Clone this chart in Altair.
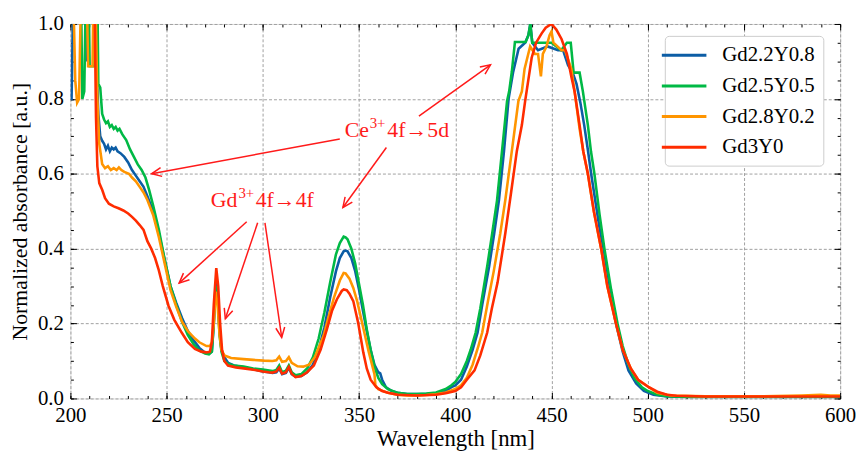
import math
import altair as alt
import pandas as pd

SERIES = ["Gd2.2Y0.8", "Gd2.5Y0.5", "Gd2.8Y0.2", "Gd3Y0"]
COLORS = ["#0C5DA5", "#00B945", "#FF9500", "#FF2C00"]

blue_wl = [200, 200.6, 201.5, 207.5, 208, 208.6, 212.5, 213.5, 214.5, 215.5, 216.5, 217.5, 218.5, 219.5, 220.5,
           221.5, 222.5, 223.5, 224.5, 226, 228, 230, 232, 234, 236, 238, 240, 243, 246, 249, 252, 255, 258,
           261, 264, 267, 270, 272, 273.5, 274.5, 275.5, 276.5, 277.5, 278.5, 280, 282, 285, 290, 295, 300,
           303, 305, 307, 308.5, 310, 312, 313.5, 315, 317, 320, 323, 326, 329, 332, 335, 338, 340, 342, 343,
           344, 346, 348, 350, 352, 354, 356, 358, 360, 361, 362, 364, 367, 370, 375, 380, 385, 390, 395, 398,
           400, 403, 406, 409, 411.6, 414, 417.6, 420.2, 422.7, 425.3, 427.7, 430, 432.9, 436.3, 438, 439,
           440, 443, 448, 453.4, 456, 458.6, 461, 463, 465, 467, 469, 470.6, 473, 476.6, 480, 483.5, 487,
           490, 494, 498, 503, 510, 520, 540, 560, 580, 600]
blue_ab = [0.80, 0.80, 1.08, 1.08, 0.90, 1.08, 1.08, 0.90, 0.76, 0.70, 0.688, 0.68, 0.665, 0.675, 0.66,
           0.67, 0.665, 0.67, 0.66, 0.655, 0.645, 0.63, 0.61, 0.595, 0.58, 0.565, 0.54, 0.50, 0.44, 0.37,
           0.30, 0.255, 0.215, 0.18, 0.155, 0.135, 0.122, 0.12, 0.125, 0.20, 0.31, 0.28, 0.18, 0.13, 0.11,
           0.095, 0.088, 0.083, 0.078, 0.072, 0.07, 0.068, 0.07, 0.08, 0.065, 0.068, 0.082, 0.065, 0.058,
           0.06, 0.07, 0.09, 0.13, 0.19, 0.27, 0.34, 0.375, 0.393, 0.395, 0.393, 0.375, 0.34, 0.29, 0.235,
           0.18, 0.13, 0.09, 0.07, 0.067, 0.05, 0.03, 0.02, 0.015, 0.012, 0.012, 0.012, 0.014, 0.02, 0.03,
           0.035, 0.05, 0.085, 0.13, 0.176, 0.25, 0.353, 0.44, 0.53, 0.66, 0.80, 0.87, 0.934, 0.95, 0.97,
           1.0, 0.95, 0.93, 0.94, 0.93, 0.93, 0.89, 0.87, 0.84, 0.79, 0.73, 0.66, 0.60, 0.52, 0.40, 0.29,
           0.20, 0.125, 0.075, 0.04, 0.02, 0.01, 0.005, 0.004, 0.004, 0.004, 0.004, 0.004]

green_wl = [200, 205.5, 206.2, 207.2, 208, 209.5, 210, 212.5, 213, 214, 214.5, 215.5, 216.5, 217.5, 218.5,
            219.5, 220.5, 221.5, 222.5, 223.5, 224.5, 225.5, 227, 229, 231, 233, 235, 237, 239, 241, 243,
            246, 249, 252, 255, 258, 261, 264, 267, 270, 272, 273.5, 274.5, 275.5, 276.5, 277.5, 278.5, 280,
            282, 285, 290, 295, 300, 305, 307, 308.5, 310, 312, 313.5, 315, 317, 320, 323, 326, 329, 332,
            335, 338, 340, 342, 343, 344, 346, 348, 350, 352, 354, 356, 358, 360, 362, 365, 370, 375, 380,
            385, 390, 395, 398, 400, 403, 406, 408, 410.6, 413, 416.6, 419.2, 421.7, 424.3, 426.9, 428,
            429.4, 431, 436.6, 438, 439, 440, 445, 450, 455, 458, 460, 461.5, 464.6, 466.3, 468.9, 470.5,
            472.3, 475, 477.5, 481, 484.3, 487, 490, 493, 497, 500, 505, 510, 520, 540, 560, 580, 600]
green_ab = [1.08, 1.08, 0.80, 0.82, 1.08, 1.08, 0.887, 0.887, 1.08, 1.08, 0.84, 0.83, 0.76, 0.745, 0.735,
            0.74, 0.725, 0.73, 0.72, 0.725, 0.715, 0.72, 0.705, 0.69, 0.665, 0.645, 0.625, 0.61, 0.59, 0.555,
            0.515, 0.45, 0.37, 0.30, 0.25, 0.205, 0.17, 0.145, 0.128, 0.12, 0.118, 0.125, 0.20, 0.30, 0.27,
            0.17, 0.125, 0.10, 0.092, 0.088, 0.085, 0.08, 0.077, 0.073, 0.076, 0.088, 0.07, 0.074, 0.088,
            0.07, 0.062, 0.065, 0.08, 0.11, 0.16, 0.23, 0.31, 0.385, 0.415, 0.432, 0.43, 0.425, 0.40, 0.36,
            0.305, 0.25, 0.185, 0.13, 0.085, 0.055, 0.038, 0.025, 0.015, 0.012, 0.012, 0.013, 0.016, 0.025,
            0.035, 0.044, 0.065, 0.10, 0.13, 0.176, 0.24, 0.353, 0.441, 0.529, 0.661, 0.794, 0.82, 0.873,
            0.952, 0.952, 0.97, 1.0, 0.95, 0.95, 0.95, 0.93, 0.95, 0.95, 0.87, 0.87, 0.82, 0.73, 0.66, 0.60,
            0.49, 0.40, 0.29, 0.20, 0.14, 0.09, 0.055, 0.03, 0.02, 0.01, 0.006, 0.004, 0.004, 0.004, 0.004,
            0.004]

orange_wl = [200, 201.5, 202.5, 203.5, 204.5, 205.5, 208.5, 209.2, 211.5, 212, 213, 214, 215, 216.5, 218,
             219.5, 221, 222.5, 224, 225.2, 226.5, 228, 230.4, 232, 234, 236, 238, 240, 243, 246, 249, 252,
             255, 258, 261, 264.7, 267, 270.7, 272.5, 273.5, 274.5, 275.5, 276.5, 277.5, 278.5, 280, 283.5,
             290, 295, 300.7, 305, 307, 308.5, 310, 312, 313.5, 315, 318, 321, 324, 327, 331.6, 334, 337,
             340, 342, 343, 345, 347, 349, 351, 353, 355, 357, 358, 358.5, 360, 365, 370, 375, 380, 385, 390,
             395, 400, 403, 406, 409, 412, 414, 417, 420, 423.4, 426, 429.4, 432.8, 434.6, 436, 438.9, 441.4,
             443, 444.5, 445.5, 447.4, 449, 450, 451, 455.2, 457, 460.3, 462, 464.6, 466.5, 468.9, 472,
             475.8, 479, 483.5, 487, 491.2, 495, 500.6, 505, 512, 530, 560, 580, 590, 595, 600]
orange_ab = [1.08, 1.08, 0.85, 0.79, 0.80, 1.08, 1.08, 0.887, 0.887, 1.08, 1.08, 0.80, 0.68, 0.626, 0.615,
             0.62, 0.61, 0.615, 0.61, 0.617, 0.61, 0.605, 0.60, 0.59, 0.58, 0.565, 0.55, 0.53, 0.49, 0.43,
             0.36, 0.29, 0.245, 0.205, 0.18, 0.16, 0.15, 0.14, 0.14, 0.15, 0.20, 0.285, 0.25, 0.17, 0.13,
             0.115, 0.108, 0.105, 0.103, 0.101, 0.10, 0.102, 0.112, 0.098, 0.10, 0.11, 0.095, 0.086, 0.085,
             0.09, 0.11, 0.168, 0.215, 0.27, 0.315, 0.335, 0.334, 0.32, 0.295, 0.26, 0.215, 0.17, 0.125,
             0.085, 0.065, 0.035, 0.025, 0.015, 0.01, 0.008, 0.008, 0.009, 0.011, 0.016, 0.025, 0.035, 0.055,
             0.09, 0.14, 0.176, 0.26, 0.34, 0.441, 0.53, 0.661, 0.794, 0.82, 0.88, 0.94, 0.92, 0.92, 0.86,
             0.92, 0.94, 0.97, 0.98, 0.95, 0.93, 0.93, 0.88, 0.82, 0.72, 0.66, 0.60, 0.50, 0.40, 0.30, 0.20,
             0.13, 0.08, 0.05, 0.03, 0.015, 0.008, 0.006, 0.006, 0.008, 0.01, 0.008, 0.008]

red_wl = [200, 212.5, 213.3, 214, 215, 216.6, 218, 220, 222.5, 225, 227.5, 230, 232, 234, 236, 238, 240,
          242, 244, 245.8, 248, 251, 254, 257.8, 261, 264.7, 268, 270.7, 272.5, 273.5, 274.5, 275.8, 276.8,
          277.8, 278.8, 280, 281.9, 286, 292, 296, 300, 303, 305, 307, 308.5, 310, 312, 313.5, 315, 317,
          320, 323, 326.5, 330, 333.3, 336, 338.5, 341, 342, 343.6, 345, 347, 349.6, 352.2, 354, 356, 359,
          362, 365, 370, 380, 390, 395, 400, 403, 406, 410, 413, 416.6, 419, 422, 426, 429, 432, 434.6,
          436.3, 439.7, 442, 444.9, 447, 450, 452.5, 455.2, 458, 460.3, 462, 464.6, 466.5, 468.9, 472,
          475.8, 479, 483.5, 487, 491.2, 495, 500.6, 505, 510, 515, 530, 560, 580, 600]
red_ab = [1.08, 1.08, 0.75, 0.62, 0.575, 0.556, 0.535, 0.52, 0.513, 0.508, 0.502, 0.494, 0.485, 0.475,
          0.463, 0.45, 0.42, 0.40, 0.375, 0.345, 0.30, 0.247, 0.21, 0.176, 0.15, 0.132, 0.125, 0.123, 0.125,
          0.15, 0.25, 0.348, 0.30, 0.20, 0.13, 0.10, 0.088, 0.083, 0.079, 0.076, 0.072, 0.07, 0.069, 0.072,
          0.082, 0.066, 0.07, 0.084, 0.066, 0.057, 0.06, 0.07, 0.088, 0.13, 0.185, 0.235, 0.265, 0.287,
          0.291, 0.289, 0.28, 0.26, 0.20, 0.123, 0.08, 0.05, 0.03, 0.02, 0.015, 0.01, 0.008, 0.01, 0.014,
          0.02, 0.03, 0.05, 0.075, 0.115, 0.176, 0.24, 0.31, 0.441, 0.55, 0.661, 0.73, 0.794, 0.91, 0.95,
          0.975, 0.99, 1.0, 0.985, 0.96, 0.92, 0.86, 0.82, 0.73, 0.66, 0.60, 0.50, 0.40, 0.30, 0.20, 0.13,
          0.08, 0.05, 0.03, 0.018, 0.01, 0.007, 0.005, 0.005, 0.005, 0.005]

# annotation text pieces (main text + raised superscripts), left-aligned, in data coordinates
note_pieces = ["Ce", "3+", "4f→5d", "Gd", "3+", "4f→4f"]
note_x = [342.6, 355.5, 364.7, 272.9, 287.3, 296.3]
note_y = [0.698, 0.722, 0.698, 0.511, 0.534, 0.511]
note_size = [22, 15, 22, 22, 15, 22]

# arrows (start -> tip) in data coordinates
arrow_x0 = [340.0, 364.2, 381.1, 291.6, 297.3, 301.1]
arrow_y0 = [0.693, 0.670, 0.754, 0.472, 0.469, 0.469]
arrow_x1 = [242.2, 341.6, 418.3, 256.5, 280.5, 309.8]
arrow_y1 = [0.600, 0.510, 0.891, 0.308, 0.213, 0.163]

x_major = [200, 250, 300, 350, 400, 450, 500, 550, 600]
x_minor = list(range(200, 601, 10))
y_major = [0.0, 0.2, 0.4, 0.6, 0.8, 1.0]
y_minor = [round(i * 0.05, 2) for i in range(21)]

W, H = 777, 378
FONT = "Liberation Serif, DejaVu Serif, serif"
XDOM, YDOM = [200, 600], [0, 1]

rows = []
for name, wl, ab in zip(SERIES, [blue_wl, green_wl, orange_wl, red_wl], [blue_ab, green_ab, orange_ab, red_ab]):
    for a, b in zip(wl, ab):
        rows.append({"wl": a, "ab": b, "series": name})
df = pd.DataFrame(rows)

xs = alt.Scale(domain=XDOM, nice=False, zero=False)
ys = alt.Scale(domain=YDOM, nice=False, zero=False)

lines = alt.Chart(df).mark_line(strokeWidth=2.6, clip=True).encode(
    x=alt.X("wl:Q", scale=xs, axis=alt.Axis(
        orient="bottom", values=x_major, format="d", title="Wavelength [nm]",
        ticks=False, domain=False, grid=True, gridDash=[3, 2], gridColor="#a0a0a0", gridWidth=1,
        labelFont=FONT, labelFontSize=21, labelColor="black", labelPadding=6, labelFlush=False,
        titleFont=FONT, titleFontSize=23, titleFontWeight="normal", titleColor="black", titlePadding=2)),
    y=alt.Y("ab:Q", scale=ys, axis=alt.Axis(
        orient="left", values=y_major, format=".1f", title="Normalized absorbance [a.u.]",
        ticks=False, domain=False, grid=True, gridDash=[3, 2], gridColor="#a0a0a0", gridWidth=1,
        labelFont=FONT, labelFontSize=21, labelColor="black", labelPadding=7, labelFlush=False,
        titleFont=FONT, titleFontSize=22, titleFontWeight="normal", titleColor="black", titlePadding=6)),
    color=alt.Color("series:N", scale=alt.Scale(domain=SERIES, range=COLORS), legend=alt.Legend(
        title=None, orient="none", legendX=600, legendY=12,
        symbolType="M-2.25,0H2.25", symbolSize=400, symbolStrokeWidth=3,
        labelFont=FONT, labelFontSize=21, labelColor="black", labelOffset=27,
        padding=8, rowPadding=9, fillColor="white", strokeColor="#cccccc", cornerRadius=4)),
)

carrier = pd.DataFrame({"wl": XDOM, "ab": YDOM})


def tick_layer(xorient, yorient, xvals, yvals, size):
    return alt.Chart(carrier).mark_point(opacity=0).encode(
        x=alt.X("wl:Q", scale=xs, axis=alt.Axis(
            orient=xorient, values=xvals, labels=False, title=None, domain=False, grid=False,
            ticks=True, tickSize=size, offset=-size, tickColor="black", tickWidth=1)),
        y=alt.Y("ab:Q", scale=ys, axis=alt.Axis(
            orient=yorient, values=yvals, labels=False, title=None, domain=False, grid=False,
            ticks=True, tickSize=size, offset=-size, tickColor="black", tickWidth=1)),
    )


t1 = tick_layer("bottom", "left", x_major, y_major, 6)
t2 = tick_layer("top", "right", x_major, y_major, 6)
t3 = tick_layer("bottom", "left", x_minor, y_minor, 3)
t4 = tick_layer("top", "right", x_minor, y_minor, 3)

arr = pd.DataFrame({"x0": arrow_x0, "y0": arrow_y0, "x1": arrow_x1, "y1": arrow_y1})
arr["ang"] = [
    (math.degrees(math.atan2(-(b1 - b0) * H, (a1 - a0) * W / 400.0)) + 360) % 360
    for a0, b0, a1, b1 in zip(arrow_x0, arrow_y0, arrow_x1, arrow_y1)
]
RED = "#FF1A1A"
shafts = alt.Chart(arr).mark_rule(color=RED, strokeWidth=1.5).encode(
    x=alt.X("x0:Q", scale=xs, axis=None), y=alt.Y("y0:Q", scale=ys, axis=None),
    x2="x1:Q", y2="y1:Q")
heads = alt.Chart(arr).mark_point(shape="M-1,-0.45L0,0L-1,0.45", filled=False, color=RED,
                                  strokeWidth=1.5, size=400, opacity=1).encode(
    x=alt.X("x1:Q", scale=xs, axis=None), y=alt.Y("y1:Q", scale=ys, axis=None),
    angle=alt.Angle("ang:Q", scale=None))

notes = pd.DataFrame({"label": note_pieces, "x": note_x, "y": note_y, "fs": note_size})
texts = alt.Chart(notes).mark_text(font=FONT, color=RED, align="left", baseline="alphabetic").encode(
    x=alt.X("x:Q", scale=xs, axis=None), y=alt.Y("y:Q", scale=ys, axis=None), text="label:N",
    size=alt.Size("fs:Q", scale=None, legend=None))

chart = alt.layer(lines, t1, t2, t3, t4, shafts, heads, texts).resolve_axis(
    x="independent", y="independent"
).properties(
    width=W, height=H, autosize=alt.AutoSizeParams(type="none"),
    padding={"left": 63, "top": 14, "right": 16, "bottom": 60},
).configure_view(stroke="black", strokeWidth=1.2).configure(background="white", font=FONT)

chart.save("out.html", embed_options={"renderer": "svg", "actions": False})
